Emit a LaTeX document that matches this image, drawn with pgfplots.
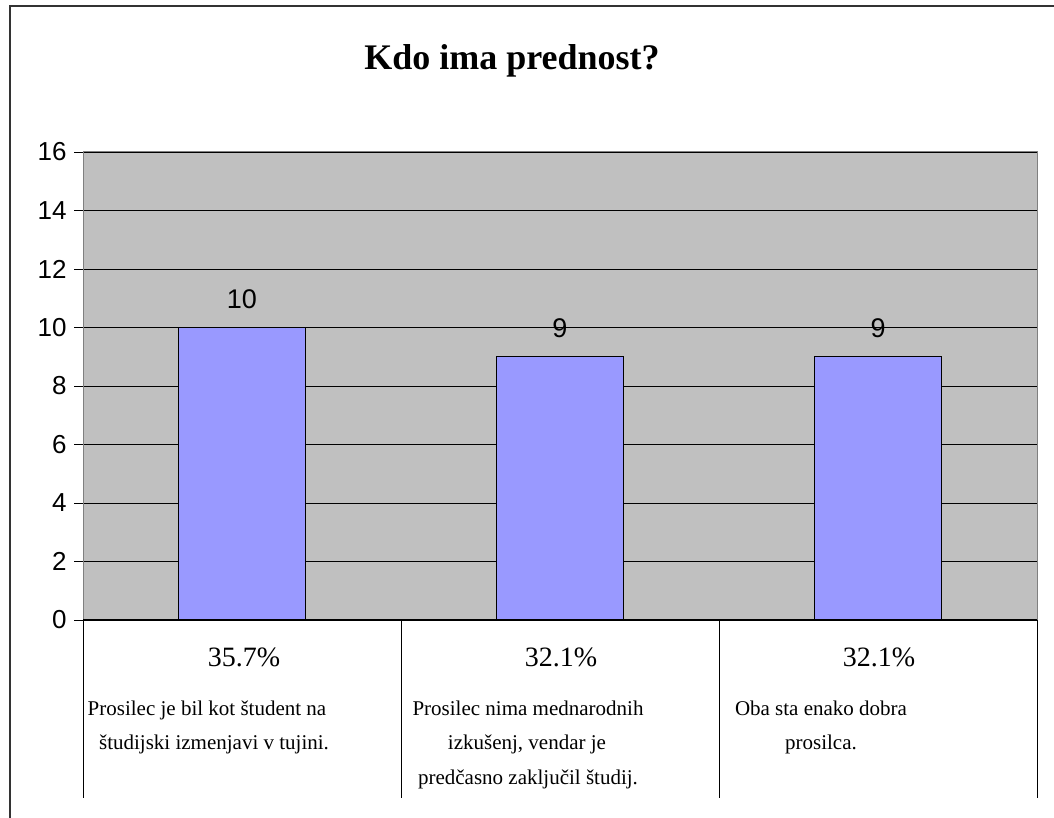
\documentclass[border=0pt]{standalone}
\usepackage{fontspec}
\setmainfont{Liberation Serif}
\newfontfamily\arialfont{Liberation Sans}
\usepackage{pgfplots}
\pgfplotsset{compat=1.18}
\definecolor{plotbg}{HTML}{C0C0C0}
\definecolor{barfill}{HTML}{9999FF}
\definecolor{bordergray}{HTML}{808080}
\begin{document}
\begin{tikzpicture}
\path[use as bounding box] (0,0) rectangle (1054bp,818bp);
\draw[line width=1.6bp, black!80] (10bp,0) -- (10bp,812bp) -- (1054bp,812bp);
\node[font=\bfseries\fontsize{36bp}{40bp}\selectfont, anchor=base, inner sep=0pt] at (512bp,818bp-70bp) {Kdo ima prednost?};
\begin{axis}[
  anchor=south west, at={(83bp,198bp)},
  width=954bp, height=468bp, scale only axis,
  xmin=-0.5, xmax=2.5, ymin=0, ymax=16,
  ytick={0,2,...,16}, xtick=\empty,
  axis background/.style={fill=plotbg},
  axis line style={bordergray, line width=1bp},
  ymajorgrids, grid style={black, line width=0.6bp},
  major tick style={black, line width=0.6bp},
  tick align=outside, major tick length=9bp,
  ytick pos=left,
  /pgf/number format/assume math mode=true,
  tick label style={font=\arialfont\fontsize{26bp}{30bp}\selectfont},
  yticklabel style={xshift=-4bp},
  clip=false,
  nodes near coords,
  every node near coord/.append style={font=\arialfont\fontsize{27bp}{30bp}\selectfont, anchor=base, yshift=19bp, inner sep=0pt},
]
\addplot[ybar, bar width=127bp, fill=barfill, draw=black, line width=1bp] coordinates {(0,10) (1,9) (2,9)};
\draw[black, line width=1.6bp] (axis cs:-0.5,0) -- (axis cs:2.5,0);
\draw[black, line width=0.8bp] (axis cs:-0.5,0) -- (axis cs:-0.5,-6.09);
\draw[black, line width=0.8bp] (axis cs:0.5,0) -- (axis cs:0.5,-6.09);
\draw[black, line width=0.8bp] (axis cs:1.5,0) -- (axis cs:1.5,-6.09);
\draw[black, line width=0.8bp] (axis cs:2.5,0) -- (axis cs:2.5,-6.09);
\end{axis}
\begin{scope}[every node/.style={anchor=base, inner sep=0pt}]
\node[font=\fontsize{28bp}{32bp}\selectfont] at (244bp,818bp-667bp) {35.7\%};
\node[font=\fontsize{28bp}{32bp}\selectfont] at (561bp,818bp-667bp) {32.1\%};
\node[font=\fontsize{28bp}{32bp}\selectfont] at (879bp,818bp-667bp) {32.1\%};
\node[font=\fontsize{21bp}{24bp}\selectfont] at (207bp,818bp-716bp) {Prosilec je bil kot študent na};
\node[font=\fontsize{21bp}{24bp}\selectfont] at (214bp,818bp-750bp) {študijski izmenjavi v tujini.};
\node[font=\fontsize{21bp}{24bp}\selectfont] at (528bp,818bp-716bp) {Prosilec nima mednarodnih};
\node[font=\fontsize{21bp}{24bp}\selectfont] at (527bp,818bp-750bp) {izkušenj, vendar je};
\node[font=\fontsize{21bp}{24bp}\selectfont] at (528bp,818bp-784bp) {predčasno zaključil študij.};
\node[font=\fontsize{21bp}{24bp}\selectfont] at (821bp,818bp-716bp) {Oba sta enako dobra};
\node[font=\fontsize{21bp}{24bp}\selectfont] at (821bp,818bp-750bp) {prosilca.};
\end{scope}
\end{tikzpicture}
\end{document}
